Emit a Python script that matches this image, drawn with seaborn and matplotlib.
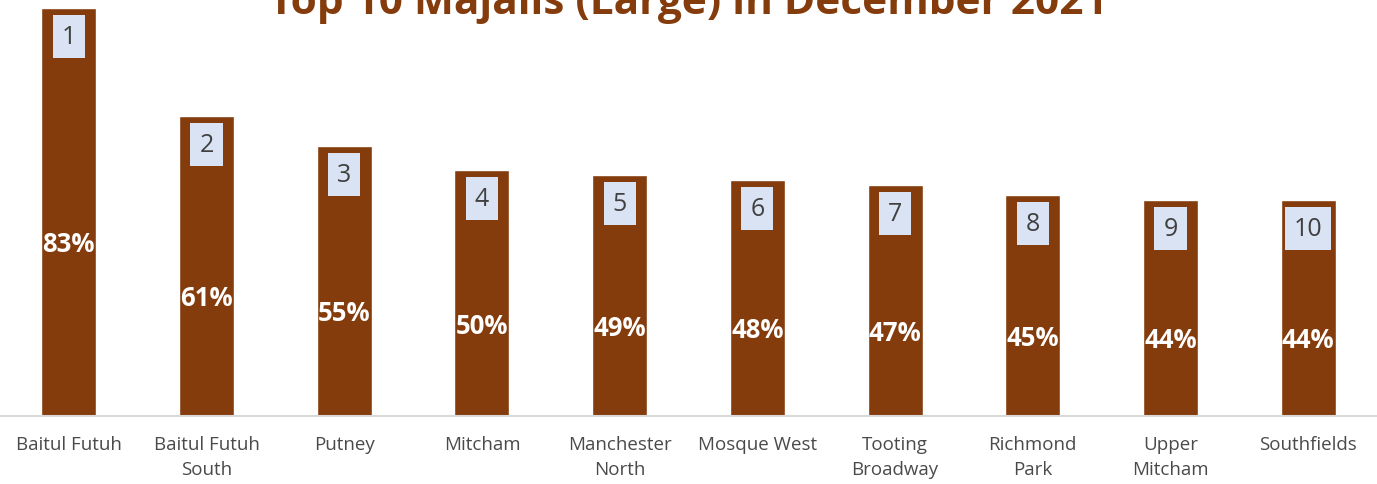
import matplotlib
matplotlib.use("Agg")
import matplotlib.pyplot as plt
import seaborn as sns
import pandas as pd

majalis = ["Baitul Futuh", "Baitul Futuh\nSouth", "Putney", "Mitcham", "Manchester\nNorth",
           "Mosque West", "Tooting\nBroadway", "Richmond\nPark", "Upper\nMitcham", "Southfields"]
percent = [83, 61, 55, 50, 49, 48, 47, 45, 44, 44]
ranks = [1, 2, 3, 4, 5, 6, 7, 8, 9, 10]
title = "Top 10 Majalis (Large) in December 2021"

BROWN = "#843C0C"
BOX = "#DAE3F3"

sns.set_theme(style="white")
plt.rcParams['font.family'] = ['Open Sans', 'DejaVu Sans']

df = pd.DataFrame({"majlis": majalis, "pct": percent})

fig = plt.figure(figsize=(13.77, 4.85), dpi=100)
ax = fig.add_axes([0, (485 - 417) / 485, 1, 417 / 485])
sns.barplot(data=df, x="majlis", y="pct", color=BROWN, saturation=1, width=0.4, ax=ax)

ax.set_xlim(-0.5, len(majalis) - 0.5)
ax.set_ylim(0, 84.8)
ax.set_xlabel("")
ax.set_ylabel("")
ax.set_yticks([])
for s in ["top", "left", "right"]:
    ax.spines[s].set_visible(False)
ax.spines["bottom"].set_color("#D9D9D9")
ax.spines["bottom"].set_linewidth(1.5)
ax.tick_params(axis="x", length=0, pad=14, labelsize=13.5, labelcolor="#4a4a4a")
for lab in ax.get_xticklabels():
    lab.set_linespacing(1.5)

for i, (v, r) in enumerate(zip(percent, ranks)):
    ax.annotate(f"{v}%", xy=(i, v / 2), xytext=(0, -23), textcoords="offset points",
                ha="center", va="center", color="white", fontsize=18.5, fontweight="bold")
    ax.annotate(f"{r}", xy=(i, v), xytext=(0, -20.5), textcoords="offset points",
                ha="center", va="center", color="#404040", fontsize=18,
                bbox=dict(boxstyle="square,pad=0.36", fc=BOX, ec="none"))

fig.text(0.4997, 1 - 14 / 485, title, ha="center", va="baseline",
         color=BROWN, fontsize=30.5, fontweight="bold")

fig.savefig("out.png", dpi=100)
